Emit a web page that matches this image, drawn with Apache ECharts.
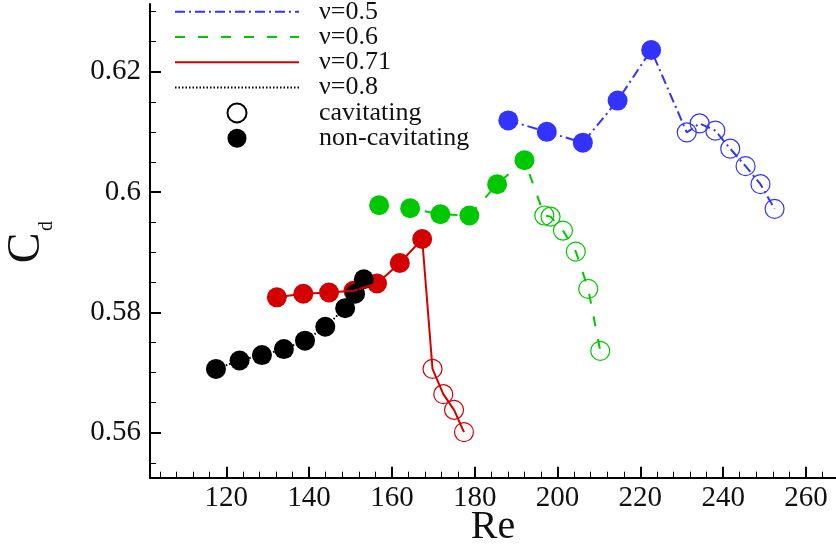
<!DOCTYPE html>
<html><head><meta charset="utf-8">
<script src="https://cdn.jsdelivr.net/npm/echarts@6/dist/echarts.min.js"></script>
<style>html,body{margin:0;padding:0;background:#fff}#c{width:836px;height:554px}</style>
</head><body><div id="c"></div>
<script>
// ---- data ----
const seriesNames = ['ν=0.5', 'ν=0.6', 'ν=0.71', 'ν=0.8'];
const legendMarkers = ['cavitating', 'non-cavitating'];

const reFilled05 = [188.1, 197.4, 206.1, 214.5, 222.6];
const cdFilled05 = [0.6119, 0.6100, 0.6082, 0.6152, 0.6236];
const reCav05 = [231.2, 234.3, 238.1, 241.7, 245.4, 249.0, 252.4];
const cdCav05 = [0.6099, 0.6114, 0.6102, 0.6072, 0.6043, 0.6013, 0.5972];

const reFilled06 = [156.9, 164.4, 171.7, 178.7, 185.4, 192.0];
const cdFilled06 = [0.5978, 0.5973, 0.5963, 0.5961, 0.6013, 0.6053];
const reCav06 = [196.8, 198.3, 201.3, 204.4, 207.4, 210.3];
const cdCav06 = [0.5961, 0.5959, 0.5936, 0.5901, 0.5839, 0.5736];

const reFilled071 = [132.2, 138.6, 144.8, 150.7, 156.4, 161.9, 167.3];
const cdFilled071 = [0.5825, 0.5831, 0.5833, 0.5836, 0.5848, 0.5882, 0.5922];
const reCav071 = [169.8, 172.4, 175.0, 177.4];
const cdCav071 = [0.5706, 0.5664, 0.5638, 0.5601];

const reFilled08 = [117.5, 123.2, 128.6, 133.9, 139.0, 143.9, 148.7, 151.1, 153.2];
const cdFilled08 = [0.5706, 0.5720, 0.5729, 0.5739, 0.5753, 0.5776, 0.5807, 0.5831, 0.5855];
const reCav08 = [];
const cdCav08 = [];

const xMajorTicks = [120, 260, 20];    // first, last, step
const xMinorTicks = [104, 264, 4];
const yMajorTicks = [0.56, 0.62, 0.02];
const yMinorTicks = [0.555, 0.63, 0.005];
const xRange = [101.57, 267.24];
const yRange = [0.55252, 0.63125];
const xTitle = 'Re';
const yTitleMain = 'C';
const yTitleSub = 'd';

// ---- styling ----
const colors = ['#3333ff', '#00c800', '#d40000', '#000000'];
const dashes = [[10, 4, 2, 4], [10, 13], 'solid', [1.5, 2]];
const FONT = 'Liberation Serif, Times New Roman, serif';

const zip = (a, b) => a.map((v, i) => [v, b[i]]);
const groups = [
  [reFilled05, cdFilled05, reCav05, cdCav05],
  [reFilled06, cdFilled06, reCav06, cdCav06],
  [reFilled071, cdFilled071, reCav071, cdCav071],
  [reFilled08, cdFilled08, reCav08, cdCav08]
];

const series = [];
groups.forEach((g, i) => {
  series.push({
    name: seriesNames[i], type: 'line', xAxisIndex: 0, yAxisIndex: 0,
    data: zip(g[0], g[1]).concat(zip(g[2], g[3])),
    symbol: 'none', silent: true,
    lineStyle: { color: colors[i], width: 2, type: dashes[i] },
    itemStyle: { color: colors[i] }
  });
});
groups.forEach((g, i) => {
  series.push({
    name: seriesNames[i] + ' cav', type: 'scatter', xAxisIndex: 0, yAxisIndex: 0,
    data: zip(g[2], g[3]), symbol: 'circle', symbolSize: 19,
    itemStyle: { color: 'rgba(0,0,0,0)', borderColor: colors[i], borderWidth: 1.2, opacity: 1 }
  });
  series.push({
    name: seriesNames[i] + ' non-cav', type: 'scatter', xAxisIndex: 0, yAxisIndex: 0,
    data: zip(g[0], g[1]), symbol: 'circle', symbolSize: 20,
    itemStyle: { color: colors[i], opacity: 1 }
  });
});
series.push({
  name: legendMarkers[0], type: 'scatter', xAxisIndex: 0, yAxisIndex: 0, data: [],
  symbol: 'circle', symbolSize: 19,
  itemStyle: { color: '#ffffff', borderColor: '#000', borderWidth: 1.2, opacity: 1 }
});
series.push({
  name: legendMarkers[1], type: 'scatter', xAxisIndex: 0, yAxisIndex: 0, data: [],
  symbol: 'circle', symbolSize: 19, itemStyle: { color: '#000', opacity: 1 }
});

const hiddenAxis = (gi) => ({ gridIndex: gi, type: 'value', show: false, min: 0, max: 1 });
const labelStyle = { fontFamily: FONT, fontSize: 29, color: '#111' };

const legendData = seriesNames.map(n => ({ name: n, itemStyle: { opacity: 0 } }))
  .concat(legendMarkers.map(n => ({ name: n })));

const option = {
  animation: false,
  backgroundColor: '#fff',
  textStyle: { fontFamily: FONT },
  grid: [
    { left: 150, right: 0, top: 4, bottom: 76.3 },       // main
    { left: 160.05, right: 13.44, top: 4, bottom: 76.3 }, // x minor ticks
    { left: 226.3, right: 30.0, top: 4, bottom: 76.3 },   // x major ticks
    { left: 150, right: 0, top: 11.53, bottom: 91.22 },   // y minor ticks
    { left: 150, right: 0, top: 71.7, bottom: 121.3 }     // y major ticks
  ],
  xAxis: [
    {
      gridIndex: 0, type: 'value', min: xRange[0], max: xRange[1],
      axisLine: { show: true, onZero: false, lineStyle: { color: '#000', width: 2 } },
      axisTick: { show: false }, axisLabel: { show: false }, splitLine: { show: false },
      name: xTitle, nameLocation: 'middle', nameGap: 30,
      nameTextStyle: { fontFamily: FONT, fontSize: 40, color: '#111' }
    },
    {
      gridIndex: 1, type: 'value', min: xMinorTicks[0], max: xMinorTicks[1], interval: xMinorTicks[2],
      axisLine: { show: false, onZero: false },
      axisTick: { show: true, inside: true, length: 6, lineStyle: { color: '#000', width: 1 } },
      axisLabel: { show: false }, splitLine: { show: false }
    },
    {
      gridIndex: 2, type: 'value', min: xMajorTicks[0], max: xMajorTicks[1], interval: xMajorTicks[2],
      axisLine: { show: false, onZero: false },
      axisTick: { show: true, inside: true, length: 11, lineStyle: { color: '#000', width: 2 } },
      axisLabel: Object.assign({ margin: 6 }, labelStyle), splitLine: { show: false }
    },
    hiddenAxis(3), hiddenAxis(4)
  ],
  yAxis: [
    {
      gridIndex: 0, type: 'value', min: yRange[0], max: yRange[1],
      axisLine: { show: true, onZero: false, lineStyle: { color: '#000', width: 2 } },
      axisTick: { show: false }, axisLabel: { show: false }, splitLine: { show: false }
    },
    hiddenAxis(1), hiddenAxis(2),
    {
      gridIndex: 3, type: 'value', min: yMinorTicks[0], max: yMinorTicks[1], interval: yMinorTicks[2],
      axisLine: { show: false, onZero: false },
      axisTick: { show: true, inside: true, length: 6, lineStyle: { color: '#000', width: 1 } },
      axisLabel: { show: false }, splitLine: { show: false }
    },
    {
      gridIndex: 4, type: 'value', min: yMajorTicks[0], max: yMajorTicks[1], interval: yMajorTicks[2],
      axisLine: { show: false, onZero: false },
      axisTick: { show: true, inside: true, length: 11, lineStyle: { color: '#000', width: 2 } },
      axisLabel: Object.assign({ margin: 9 }, labelStyle), splitLine: { show: false }
    }
  ],
  graphic: [
    {
      type: 'text', x: 26.8, y: 248, rotation: Math.PI / 2, silent: true,
      style: { text: yTitleMain, font: '46px ' + FONT, fill: '#111', textAlign: 'center', textVerticalAlign: 'middle' }
    },
    {
      type: 'text', x: 46.5, y: 226, rotation: Math.PI / 2, silent: true,
      style: { text: yTitleSub, font: '20px ' + FONT, fill: '#111', textAlign: 'center', textVerticalAlign: 'middle' }
    }
  ],
  legend: {
    left: 174, top: -1.3, orient: 'vertical', padding: 0, itemGap: -0.7,
    itemWidth: 124, itemHeight: 19, selectedMode: false,
    data: legendData,
    textStyle: { fontFamily: FONT, fontSize: 26, color: '#111', lineHeight: 20, padding: [0, 0, 0, 15] }
  },
  series: series
};

const chart = echarts.init(document.getElementById('c'), null, { renderer: 'canvas' });
chart.setOption(option);
</script>
</body></html>
